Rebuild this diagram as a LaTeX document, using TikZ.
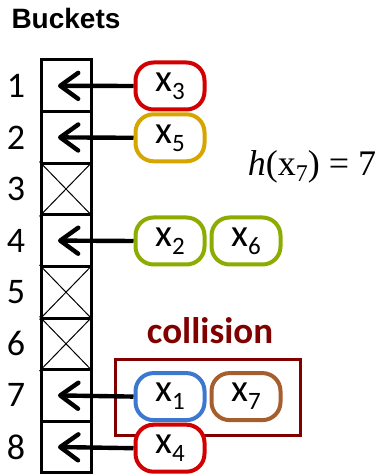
\documentclass[tikz,border=0pt]{standalone}
\usepackage{fontspec}
\setmainfont{Carlito}
\newfontfamily\arialfont{Liberation Sans}
\newfontfamily\timesfont{Liberation Serif}
\usetikzlibrary{arrows.meta}

\definecolor{xred}{RGB}{210,0,0}
\definecolor{xgold}{RGB}{214,165,0}
\definecolor{xgreen}{RGB}{140,172,0}
\definecolor{xblue}{RGB}{60,120,208}
\definecolor{xbrown}{RGB}{166,94,46}
\definecolor{darkred}{RGB}{128,0,0}

\newcommand{\xs}[1]{x\raisebox{-4pt}{\fontsize{12.5}{13}\selectfont #1}}

\begin{document}
\begin{tikzpicture}[x=0.5pt,y=-0.5pt,
    item/.style={draw, fill=white, rounded corners=9pt, line width=2pt,
      minimum width=34.5pt, minimum height=23.5pt, inner sep=0pt,
      font=\fontsize{19.5}{20}\selectfont},
    ptr/.style={line width=2.2pt, -{Straight Barb[round,length=9pt,width=13pt]}}]
    \useasboundingbox (0,0) rectangle (380,474);
    \node[font=\arialfont\bfseries\fontsize{14}{16}\selectfont] (title) at (66,19) {Buckets};
    % bucket column
    \foreach \i in {1,...,8} {
        \node[draw, line width=1.5pt, minimum width=25pt, minimum height=25.8pt, inner sep=0pt] (b\i) at (66,{34.2+51.6*\i}) {};
        \node[font=\fontsize{18}{20}\selectfont] (n\i) at (16,{34.2+51.6*\i}) {\i};
    }
    \foreach \i in {3,5,6}
        \draw[line width=0.5pt] (b\i.north west) -- (b\i.south east) (b\i.north east) -- (b\i.south west);
    % collision
    \node[draw=darkred, line width=1.5pt, minimum width=92.5pt, minimum height=38pt, inner sep=0pt] (coll) at (207.5,397) {};
    \node[font=\bfseries\fontsize{18.5}{20}\selectfont, text=darkred] (lbl) at (210,331) {collision};
    % items
    \node[item, draw=xred] (x3) at (170,86) {\xs{3}};
    \node[item, draw=xgold] (x5) at (170,137.8) {\xs{5}};
    \node[item, draw=xgreen] (x2) at (170,241) {\xs{2}};
    \node[item, draw=xgreen] (x6) at (246,241) {\xs{6}};
    \node[item, draw=xblue] (x1) at (170,396.6) {\xs{1}};
    \node[item, draw=xbrown] (x7) at (246,396.6) {\xs{7}};
    \node[item, draw=xred] (x4) at (170,448.2) {\xs{4}};
    \draw[ptr] (x3.west) -- ([xshift=-4pt]b1.center);
    \draw[ptr] (x5.west) -- ([xshift=-4pt]b2.center);
    \draw[ptr] (x2.west) -- ([xshift=-4pt]b4.center);
    \draw[ptr] (x1.west) -- ([xshift=-4pt]b7.center);
    \draw[ptr] (x4.west) -- ([xshift=-4pt]b8.center);
    \node[font=\timesfont\fontsize{18}{20}\selectfont] (hash) at (312,167) {\textit{h}(x\raisebox{-3pt}{\fontsize{12}{12}\selectfont 7}) = 7};
\end{tikzpicture}
\end{document}
